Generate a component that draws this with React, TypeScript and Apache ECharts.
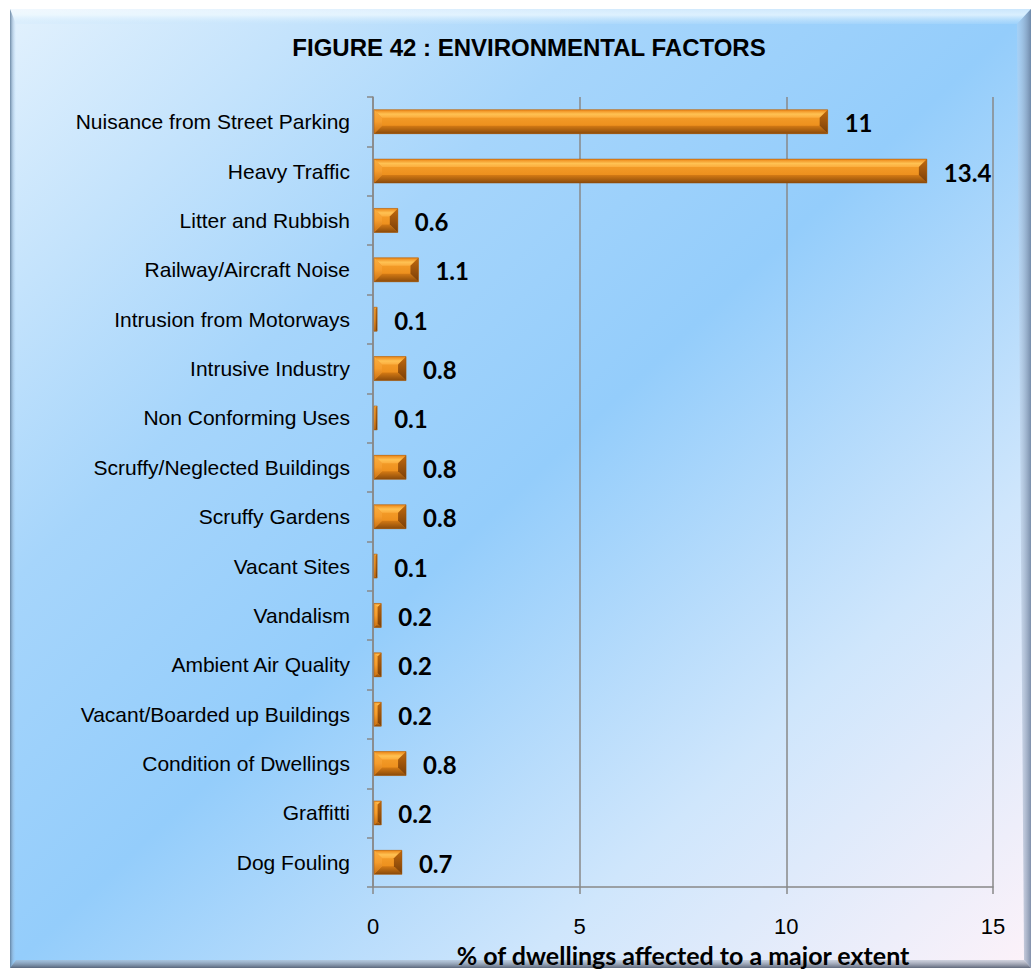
import React, { useEffect, useRef } from "react";
import * as echarts from "echarts";

const categories = [
  "Nuisance from Street Parking",
  "Heavy Traffic",
  "Litter and Rubbish",
  "Railway/Aircraft Noise",
  "Intrusion from Motorways",
  "Intrusive Industry",
  "Non Conforming Uses",
  "Scruffy/Neglected Buildings",
  "Scruffy Gardens",
  "Vacant Sites",
  "Vandalism",
  "Ambient Air Quality",
  "Vacant/Boarded up Buildings",
  "Condition of Dwellings",
  "Graffitti",
  "Dog Fouling",
];
const values = [11, 13.4, 0.6, 1.1, 0.1, 0.8, 0.1, 0.8, 0.8, 0.1, 0.2, 0.2, 0.2, 0.8, 0.2, 0.7];
const xTicks = [0, 5, 10, 15];
const titleText = "FIGURE 42 : ENVIRONMENTAL FACTORS";
const xAxisName = "% of dwellings affected to a major extent";

const lg = (x2: number, y2: number, stops: [number, string][]) =>
  new echarts.graphic.LinearGradient(0, 0, x2, y2, stops.map(([offset, color]) => ({ offset, color })));

export default function App() {
  const ref = useRef<HTMLDivElement>(null);
  useEffect(() => {
    if (!ref.current) return;
    const chart = echarts.init(ref.current, null, { renderer: "svg" });
    const L = 10, T = 9, R = 1031, B = 968;
    const option: any = {
      animation: false,
      graphic: [
        {
          type: "rect", z: -20, silent: true,
          shape: { x: L, y: T, width: R - L, height: B - T },
          style: {
            fill: lg(1, 1, [
              [0, "#e2f1fd"],
              [0.3, "#a6d5fb"],
              [0.5, "#94cdfb"],
              [0.75, "#cfe6fc"],
              [1, "#fdf2f9"],
            ]),
          },
        },
        {
          type: "polygon", z: -19, silent: true,
          shape: { points: [[L, T], [R, T], [R - 14, T + 15], [L + 6, T + 15]] },
          style: { fill: lg(0, 1, [[0, "rgba(255,255,255,0.5)"], [0.4, "rgba(240,250,255,0.75)"], [1, "rgba(200,230,252,0.2)"]]) },
        },
        {
          type: "polygon", z: -19, silent: true,
          shape: { points: [[L, T], [L + 6, T + 15], [L + 6, B - 8], [L, B]] },
          style: { fill: lg(1, 0, [[0, "rgba(90,120,150,0.85)"], [0.5, "rgba(140,170,200,0.4)"], [1, "rgba(160,200,240,0)"]]) },
        },
        {
          type: "polygon", z: -19, silent: true,
          shape: { points: [[R, T], [R, B], [R - 7, B - 8], [R - 14, T + 15]] },
          style: { fill: lg(1, 0, [[0, "rgba(200,215,235,0.3)"], [1, "rgba(100,120,150,0.8)"]]) },
        },
        {
          type: "polygon", z: -19, silent: true,
          shape: { points: [[L, B], [R, B], [R - 7, B - 8], [L + 6, B - 8]] },
          style: { fill: lg(0, 1, [[0, "rgba(170,180,195,0.5)"], [1, "rgba(80,90,110,0.9)"]]) },
        },
      ],
      title: {
        text: titleText,
        left: 524,
        textAlign: "center",
        top: 30,
        textStyle: { fontFamily: "Liberation Sans", fontWeight: "bold", fontSize: 24, color: "#000" },
      },
      grid: { left: 373, right: 39, top: 97, height: 790, containLabel: false, outerBoundsMode: "none" },
      xAxis: {
        type: "value",
        min: 0,
        max: 15,
        interval: 5,
        name: xAxisName,
        nameLocation: "middle",
        nameGap: 55,
        nameTextStyle: { fontFamily: "Lato", fontWeight: "bold", fontSize: 25, color: "#000" },
        axisLine: { show: true, lineStyle: { color: "#888", width: 1.5 } },
        axisTick: { show: true, length: 7, lineStyle: { color: "#888", width: 1.5 } },
        axisLabel: {
          margin: 28,
          fontFamily: "Liberation Sans",
          fontSize: 22,
          color: "#000",
          formatter: (v: number) => (xTicks.includes(v) ? String(v) : ""),
        },
        splitLine: { show: true, lineStyle: { color: "#888", width: 1.5 } },
      },
      yAxis: {
        type: "category",
        data: categories,
        inverse: true,
        axisLine: { show: true, lineStyle: { color: "#888", width: 1.5 } },
        axisTick: { show: true, length: 6, lineStyle: { color: "#888", width: 1.5 } },
        axisLabel: { margin: 23, fontFamily: "Liberation Sans", fontSize: 21, color: "#000" },
        splitLine: { show: false },
      },
      series: [
        {
          type: "custom",
          data: values.map((v, i) => [v, i]),
          encode: { x: 0, y: 1 },
          renderItem: (params: any, api: any) => {
            const v = api.value(0);
            const i = api.value(1);
            const p0 = api.coord([0, i]);
            const p1 = api.coord([v, i]);
            const h = 24;
            const x0 = p0[0] + 1;
            const x1 = p1[0];
            const y0 = p0[1] - h / 2;
            const y1 = p0[1] + h / 2;
            const w = Math.max(x1 - x0, 1);
            const b = Math.min(8, w / 2, h / 2);
            const xe = x0 + w;
            return {
              type: "group",
              children: [
                {
                  type: "rect",
                  shape: { x: x0, y: y0, width: w, height: h },
                  style: { fill: lg(0, 1, [[0, "#f8a430"], [1, "#e88614"]]) },
                },
                {
                  type: "polygon",
                  shape: { points: [[x0, y0], [xe, y0], [xe - b, y0 + b], [x0 + b, y0 + b]] },
                  style: { fill: lg(0, 1, [[0, "#ec8414"], [0.55, "#ffc253"], [1, "#fbac3c"]]) },
                },
                {
                  type: "polygon",
                  shape: { points: [[x0, y1], [xe, y1], [xe - b, y1 - b], [x0 + b, y1 - b]] },
                  style: { fill: lg(0, 1, [[0, "#d47a14"], [1, "#8a4a0a"]]) },
                },
                {
                  type: "polygon",
                  shape: { points: [[x0, y0], [x0 + b, y0 + b], [x0 + b, y1 - b], [x0, y1]] },
                  style: { fill: lg(0, 1, [[0, "#f9ae42"], [0.5, "#f59c2c"], [1, "#c87014"]]) },
                },
                {
                  type: "polygon",
                  shape: { points: [[xe, y0], [xe - b, y0 + b], [xe - b, y1 - b], [xe, y1]] },
                  style: { fill: lg(0, 1, [[0, "#c0690e"], [1, "#7a3f08"]]) },
                },
                {
                  type: "rect",
                  shape: { x: x0, y: y0, width: w, height: h },
                  style: { fill: "none", stroke: "rgba(150,80,10,0.45)", lineWidth: 1 },
                },
                {
                  type: "text",
                  style: {
                    text: String(v),
                    x: xe + 17,
                    y: p0[1] + 1,
                    verticalAlign: "middle",
                    align: "left",
                    fill: "#000",
                    font: "bold 24px Lato",
                  },
                },
              ],
            };
          },
        },
      ],
    };
    chart.setOption(option);
    return () => chart.dispose();
  }, []);
  return (
    <div
      ref={ref}
      style={{ position: "absolute", left: 0, top: 0, width: 1032, height: 971, background: "#fff" }}
    />
  );
}
